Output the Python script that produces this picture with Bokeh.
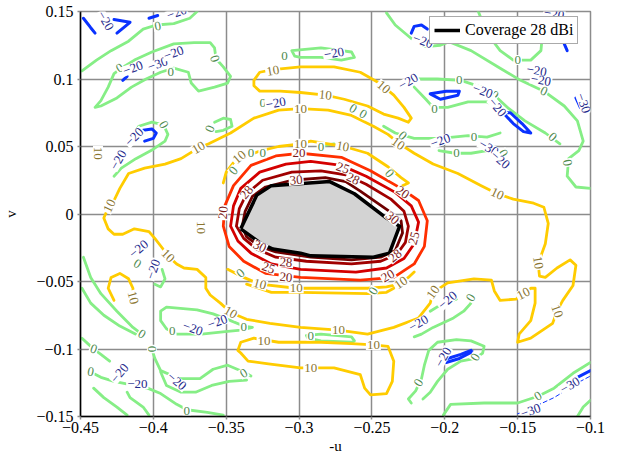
from bokeh.plotting import figure
from bokeh.models import ColumnDataSource, FixedTicker, Legend, LegendItem
from bokeh.core.properties import value
from bokeh.embed import file_html
from bokeh.resources import INLINE

# ---------------- axes ----------------
x_ticks = [-0.45, -0.4, -0.35, -0.3, -0.25, -0.2, -0.15, -0.1]
x_tick_labels = ["\u22120.45", "\u22120.4", "\u22120.35", "\u22120.3", "\u22120.25", "\u22120.2", "\u22120.15", "\u22120.1"]
y_ticks = [-0.15, -0.1, -0.05, 0, 0.05, 0.1, 0.15]
y_tick_labels = ["\u22120.15", "\u22120.1", "\u22120.05", "0", "0.05", "0.1", "0.15"]

# ---------------- coverage region (28 dBi) ----------------
cov_u = [-0.340, -0.329, -0.319, -0.279, -0.262, -0.240, -0.231, -0.238, -0.249, -0.292, -0.299, -0.318, -0.326]
cov_v = [-0.011, 0.014, 0.021, 0.024, 0.015, -0.003, -0.009, -0.029, -0.032, -0.031, -0.029, -0.026, -0.022]

# ---------------- high contours ----------------
c30_u = [-0.339, -0.337, -0.332, -0.323, -0.305, -0.282, -0.268, -0.258, -0.238, -0.230, -0.229, -0.234, -0.244, -0.264, -0.292, -0.316, -0.327, -0.336]
c30_v = [-0.009, 0.002, 0.013, 0.020, 0.025, 0.027, 0.024, 0.017, 0.002, -0.005, -0.014, -0.027, -0.032, -0.034, -0.032, -0.028, -0.024, -0.017]
c28_u = [-0.343, -0.341, -0.336, -0.325, -0.305, -0.285, -0.268, -0.254, -0.237, -0.228, -0.225, -0.227, -0.233, -0.244, -0.264, -0.295, -0.316, -0.329, -0.338]
c28_v = [-0.009, 0.004, 0.015, 0.025, 0.031, 0.032, 0.029, 0.022, 0.011, 0.002, -0.009, -0.021, -0.030, -0.035, -0.037, -0.035, -0.032, -0.026, -0.018]
c25_u = [-0.347, -0.345, -0.340, -0.327, -0.309, -0.292, -0.271, -0.254, -0.234, -0.223, -0.218, -0.221, -0.228, -0.240, -0.261, -0.299, -0.319, -0.333, -0.342]
c25_v = [-0.009, 0.006, 0.019, 0.031, 0.037, 0.039, 0.036, 0.028, 0.016, 0.006, -0.006, -0.022, -0.033, -0.040, -0.043, -0.041, -0.037, -0.029, -0.020]
c20_u = [-0.352, -0.351, -0.345, -0.333, -0.316, -0.299, -0.271, -0.251, -0.230, -0.218, -0.212, -0.214, -0.221, -0.235, -0.258, -0.299, -0.323, -0.338, -0.348]
c20_v = [-0.009, 0.006, 0.021, 0.036, 0.043, 0.045, 0.042, 0.032, 0.019, 0.010, -0.005, -0.024, -0.037, -0.047, -0.049, -0.047, -0.044, -0.035, -0.024]

# ---------------- 10 dBi contours ----------------
c10_big_u = [-0.299, -0.280, -0.264, -0.249, -0.239, -0.231, -0.221, -0.208, -0.191, -0.175, -0.164, -0.153, -0.139, -0.132,
             -0.129, -0.131, -0.134, -0.136, -0.135, -0.131, -0.123, -0.114, -0.110, -0.112, -0.119, -0.123, -0.126, -0.141,
             -0.150, -0.149, -0.141, -0.138, -0.138, -0.141, -0.146, -0.151, -0.162, -0.166, -0.168, -0.180, -0.198, -0.208,
             -0.210, -0.218, -0.235, -0.253, -0.273, -0.299, -0.320, -0.336, -0.347, -0.354, -0.361, -0.364, -0.364, -0.370,
             -0.379, -0.384, -0.390, -0.394, -0.399, -0.403, -0.413, -0.421, -0.427, -0.431, -0.434, -0.432, -0.430, -0.427,
             -0.423, -0.417, -0.406, -0.392, -0.381, -0.369, -0.362, -0.347, -0.331, -0.314]
c10_big_v = [0.078, 0.077, 0.073, 0.065, 0.059, 0.052, 0.045, 0.037, 0.030, 0.021, 0.015, 0.011, 0.008, 0.005,
             -0.007, -0.022, -0.031, -0.036, -0.046, -0.047, -0.040, -0.034, -0.038, -0.053, -0.064, -0.072, -0.081, -0.092,
             -0.095, -0.089, -0.079, -0.066, -0.055, -0.055, -0.059, -0.063, -0.064, -0.057, -0.049, -0.048, -0.051, -0.058,
             -0.066, -0.077, -0.084, -0.089, -0.086, -0.084, -0.081, -0.078, -0.073, -0.066, -0.060, -0.055, -0.047, -0.041,
             -0.040, -0.037, -0.031, -0.025, -0.018, -0.013, -0.011, -0.015, -0.015, -0.011, -0.003, 0.002, 0.006, 0.010,
             0.019, 0.030, 0.034, 0.037, 0.041, 0.049, 0.052, 0.060, 0.071, 0.077]
c10_top_u = [-0.331, -0.327, -0.318, -0.299, -0.276, -0.258, -0.245, -0.235, -0.228, -0.223, -0.225, -0.232, -0.242, -0.253, -0.269, -0.282, -0.299, -0.313, -0.327, -0.331]
c10_top_v = [0.099, 0.105, 0.107, 0.109, 0.109, 0.105, 0.097, 0.088, 0.079, 0.071, 0.068, 0.071, 0.074, 0.080, 0.085, 0.088, 0.090, 0.091, 0.091, 0.095]
c10_arc_u = [-0.352, -0.350, -0.345, -0.336, -0.326, -0.314, -0.299, -0.292, -0.269, -0.253, -0.239, -0.230, -0.225, -0.229]
c10_arc_v = [0.023, 0.031, 0.038, 0.043, 0.047, 0.050, 0.052, 0.054, 0.050, 0.045, 0.035, 0.027, 0.023, 0.021]
c10_low1_u = [-0.349, -0.340, -0.327, -0.302, -0.253, -0.240, -0.231, -0.225, -0.221]
c10_low1_v = [-0.041, -0.046, -0.052, -0.055, -0.055, -0.054, -0.052, -0.047, -0.043]
c10_low2_u = [-0.336, -0.319, -0.299, -0.253, -0.240, -0.235]
c10_low2_v = [-0.052, -0.058, -0.058, -0.059, -0.058, -0.055]
c10_isl_u = [-0.342, -0.340, -0.331, -0.314, -0.285, -0.264, -0.249, -0.239, -0.235, -0.236, -0.240, -0.251, -0.255, -0.258, -0.276, -0.299, -0.321, -0.335, -0.340]
c10_isl_v = [-0.101, -0.095, -0.092, -0.095, -0.095, -0.096, -0.097, -0.098, -0.109, -0.124, -0.133, -0.134, -0.129, -0.119, -0.114, -0.114, -0.111, -0.109, -0.103]
c10_hook_u = [-0.427, -0.431, -0.429, -0.423, -0.417, -0.414, -0.414]
c10_hook_v = [-0.064, -0.055, -0.047, -0.044, -0.048, -0.055, -0.062]

# ---------------- 0 dBi contours ----------------
g_a_u = [-0.449, -0.439, -0.429, -0.417, -0.407, -0.398, -0.386, -0.375, -0.370]
g_a_v = [0.106, 0.114, 0.121, 0.128, 0.137, 0.140, 0.141, 0.145, 0.150]
g_b_u = [-0.440, -0.436, -0.431, -0.427, -0.422, -0.413, -0.401, -0.386, -0.372, -0.361, -0.358, -0.357, -0.352, -0.347, -0.349, -0.358, -0.369, -0.374, -0.376, -0.386, -0.395, -0.405, -0.415, -0.425, -0.436]
g_b_v = [0.079, 0.084, 0.094, 0.104, 0.108, 0.114, 0.120, 0.126, 0.127, 0.127, 0.123, 0.115, 0.109, 0.102, 0.097, 0.094, 0.091, 0.097, 0.105, 0.108, 0.105, 0.100, 0.094, 0.086, 0.080]
g_c_u = [-0.413, -0.410, -0.401, -0.393, -0.390, -0.392, -0.400, -0.412, -0.422, -0.427]
g_c_v = [0.060, 0.065, 0.068, 0.066, 0.059, 0.054, 0.048, 0.041, 0.034, 0.028]
g_d_u = [-0.358, -0.352, -0.347, -0.346, -0.352, -0.357]
g_d_v = [0.068, 0.071, 0.070, 0.065, 0.062, 0.061]
g_e_u = [-0.305, -0.285, -0.264, -0.262, -0.271, -0.285, -0.299, -0.303]
g_e_v = [0.121, 0.123, 0.120, 0.116, 0.114, 0.116, 0.116, 0.117]
g_f_u = [-0.240, -0.234, -0.223, -0.213, -0.203, -0.196]
g_f_v = [0.149, 0.140, 0.130, 0.124, 0.125, 0.128]
g_g_u = [-0.177, -0.171, -0.162, -0.153, -0.141, -0.134, -0.133]
g_g_v = [0.150, 0.134, 0.121, 0.114, 0.114, 0.121, 0.133]
g_h_u = [-0.198, -0.182, -0.162, -0.148, -0.132, -0.118, -0.109, -0.105, -0.108, -0.115, -0.116, -0.110, -0.100]
g_h_v = [0.128, 0.121, 0.108, 0.099, 0.091, 0.080, 0.069, 0.054, 0.047, 0.041, 0.028, 0.020, 0.019]
g_i_u = [-0.221, -0.205, -0.189, -0.175, -0.166, -0.156, -0.145, -0.131, -0.121]
g_i_v = [0.100, 0.100, 0.099, 0.094, 0.088, 0.078, 0.069, 0.060, 0.052]
g_j_u = [-0.221, -0.213, -0.208, -0.198, -0.184, -0.171, -0.162]
g_j_v = [0.094, 0.085, 0.079, 0.079, 0.083, 0.083, 0.078]
g_k_u = [-0.242, -0.234, -0.221, -0.203, -0.184, -0.171, -0.162]
g_k_v = [0.065, 0.060, 0.056, 0.056, 0.058, 0.057, 0.060]
g_l_u = [-0.204, -0.193, -0.182, -0.171]
g_l_v = [0.047, 0.045, 0.045, 0.047]
g_m_u = [-0.448, -0.443, -0.436, -0.425, -0.414, -0.408]
g_m_v = [-0.032, -0.047, -0.059, -0.072, -0.084, -0.089]
g_n_u = [-0.449, -0.443, -0.434, -0.423, -0.412]
g_n_v = [-0.055, -0.066, -0.075, -0.083, -0.089]
g_o_u = [-0.394, -0.392, -0.395, -0.399]
g_o_v = [-0.041, -0.048, -0.054, -0.052]
g_p_u = [-0.395, -0.391, -0.370, -0.359, -0.347, -0.338, -0.332, -0.340, -0.349, -0.367, -0.384, -0.391, -0.395]
g_p_v = [-0.072, -0.069, -0.071, -0.074, -0.079, -0.083, -0.084, -0.086, -0.087, -0.089, -0.089, -0.085, -0.079]
g_q_u = [-0.449, -0.445, -0.441, -0.436, -0.430]
g_q_v = [-0.092, -0.096, -0.100, -0.104, -0.109]
g_r_u = [-0.401, -0.399, -0.395, -0.382, -0.368, -0.359, -0.349, -0.338, -0.333]
g_r_v = [-0.100, -0.107, -0.116, -0.122, -0.122, -0.115, -0.112, -0.117, -0.120]
g_s_u = [-0.395, -0.391, -0.381, -0.371, -0.360, -0.348, -0.336]
g_s_v = [-0.117, -0.127, -0.132, -0.132, -0.127, -0.124, -0.123]
g_t_u = [-0.443, -0.436, -0.427, -0.404, -0.395, -0.384, -0.377, -0.363, -0.352]
g_t_v = [-0.117, -0.121, -0.124, -0.129, -0.133, -0.141, -0.145, -0.147, -0.149]
g_w_u = [-0.441, -0.434, -0.425, -0.418]
g_w_v = [-0.129, -0.136, -0.143, -0.149]
g_x_u = [-0.418, -0.416, -0.407, -0.403]
g_x_v = [-0.132, -0.136, -0.143, -0.149]
g_band_u = [-0.295, -0.285, -0.264, -0.262, -0.264, -0.285, -0.294]
g_band_v = [-0.090, -0.089, -0.091, -0.094, -0.095, -0.094, -0.092]
g_y_u = [-0.221, -0.216, -0.208, -0.194, -0.187, -0.182, -0.182]
g_y_v = [-0.091, -0.089, -0.084, -0.077, -0.072, -0.066, -0.062]
g_y2_u = [-0.210, -0.201, -0.192]
g_y2_v = [-0.072, -0.066, -0.063]
g_z_u = [-0.223, -0.225, -0.220, -0.216, -0.214, -0.211, -0.205, -0.192, -0.182, -0.173, -0.174, -0.179, -0.189, -0.198, -0.205, -0.210, -0.215]
g_z_v = [-0.140, -0.137, -0.131, -0.122, -0.112, -0.101, -0.095, -0.093, -0.094, -0.098, -0.103, -0.107, -0.109, -0.115, -0.124, -0.132, -0.137]
g_bot_u = [-0.201, -0.196, -0.173, -0.150, -0.136, -0.125, -0.112, -0.100]
g_bot_v = [-0.149, -0.141, -0.140, -0.140, -0.135, -0.129, -0.118, -0.110]
g_cor_u = [-0.109, -0.105, -0.100]
g_cor_v = [-0.150, -0.143, -0.138]
g_dash_u = [-0.282, -0.276]
g_dash_v = [0.051, 0.052]

# ---------------- -20 / -30 dBi contours ----------------
b_1_u = [-0.210, -0.203, -0.191, -0.190, -0.199, -0.210]
b_1_v = [0.089, 0.085, 0.088, 0.091, 0.091, 0.089]
b_2_u = [-0.160, -0.153, -0.146, -0.141, -0.147, -0.155, -0.160]
b_2_v = [0.075, 0.067, 0.061, 0.060, 0.067, 0.075, 0.075]
b_3_u = [-0.407, -0.401, -0.398, -0.400, -0.406]
b_3_v = [0.062, 0.063, 0.060, 0.056, 0.054]
b_4_u = [-0.448, -0.443, -0.440]
b_4_v = [0.145, 0.138, 0.134]
b_5_u = [-0.427, -0.416, -0.425]
b_5_v = [0.144, 0.142, 0.134]
b_6_u = [-0.403, -0.397]
b_6_v = [0.145, 0.147]
b_7_u = [-0.223, -0.221, -0.216, -0.212]
b_7_v = [0.134, 0.139, 0.140, 0.137]
b_8_u = [-0.118, -0.116]
b_8_v = [0.126, 0.121]
b_9_u = [-0.110, -0.107]
b_9_v = [0.086, 0.079]
b_10_u = [-0.199, -0.190, -0.181]
b_10_v = [-0.110, -0.107, -0.102]
b_11_u = [-0.198, -0.189, -0.182]
b_11_v = [-0.107, -0.104, -0.101]
b_12_u = [-0.109, -0.100]
b_12_v = [-0.121, -0.116]
b_13_u = [-0.421, -0.418]
b_13_v = [0.099, 0.102]
m30_u = [-0.150, -0.139, -0.125, -0.107, -0.100]
m30_v = [-0.148, -0.143, -0.136, -0.124, -0.120]

# ---------------- contour labels ----------------
lab_hi_u = [-0.300, -0.352, -0.229, -0.239, -0.309, -0.270, -0.221, -0.321, -0.263, -0.336, -0.309, -0.234, -0.302, -0.236, -0.327]
lab_hi_v = [0.045, 0.001, 0.016, -0.046, -0.047, 0.034, -0.018, -0.040, 0.026, 0.016, -0.036, -0.031, 0.025, -0.003, -0.024]
lab_hi_t = ["20", "20", "20", "20", "20", "25", "25", "25", "28", "28", "28", "28", "30", "30", "30"]
lab_hi_a = [0, 85, -35, 30, -5, -20, 75, -20, -25, 50, -5, 40, 5, -40, -25]

lab10_u = [-0.232, -0.164, -0.136, -0.123, -0.146, -0.208, -0.273, -0.347, -0.390, -0.430, -0.369, -0.299,
           -0.318, -0.242, -0.282, -0.341, -0.299, -0.270, -0.327, -0.302, -0.230, -0.324, -0.292, -0.249,
           -0.414, -0.438, -0.367]
lab10_v = [0.052, 0.015, -0.036, -0.072, -0.059, -0.058, -0.086, -0.073, -0.031, 0.006, 0.049, 0.078,
           0.106, 0.094, 0.088, 0.042, 0.052, 0.050, -0.052, -0.055, -0.051, -0.094, -0.114, -0.097,
           -0.062, 0.045, -0.010]
lab10_a = [-35, -25, -80, -70, 27, 55, 0, -30, -45, 65, 30, 0,
           10, -40, -5, 40, 0, -10, -15, 0, 35, 0, 0, 0,
           -75, -90, -90]

lab0_u = [-0.397, -0.423, -0.358, -0.388, -0.393, -0.361, -0.310, -0.150, -0.132, -0.116, -0.190, -0.166, -0.126, -0.207,
          -0.180, -0.192, -0.160, -0.285, -0.238, -0.345, -0.333, -0.325, -0.340, -0.249, -0.408, -0.411, -0.387, -0.338,
          -0.441, -0.401, -0.338, -0.443, -0.377, -0.182, -0.218, -0.179, -0.136, -0.292, -0.325, -0.263, -0.256, -0.229]
lab0_v = [0.139, 0.108, 0.115, 0.105, 0.066, 0.063, 0.117, 0.114, 0.091, 0.038, 0.099, 0.088, 0.057, 0.078,
          0.057, 0.045, 0.045, 0.050, 0.030, 0.032, 0.045, 0.045, -0.044, -0.057, -0.089, -0.037, -0.087, -0.084,
          -0.100, -0.100, -0.118, -0.117, -0.146, -0.062, -0.125, -0.106, -0.135, -0.090, 0.082, 0.078, 0.074, 0.058]
lab0_a = [10, 30, -70, 0, -60, 70, 0, 0, -25, -80, 0, -40, -40, 0,
          0, 0, -60, 0, -50, 50, 0, 0, 40, 60, -30, -30, 0, 0,
          -20, -90, 30, -10, 0, 60, 60, 60, 30, 0, 0, -30, -30, -40]

labneg_u = [-0.433, -0.384, -0.414, -0.397, -0.386, -0.413, -0.424, -0.276, -0.316, -0.215, -0.225, -0.174, -0.164, -0.203,
            -0.170, -0.162, -0.137, -0.134, -0.125, -0.105, -0.410, -0.400, -0.373, -0.356, -0.384, -0.423, -0.411, -0.218,
            -0.198, -0.201, -0.141, -0.114]
labneg_v = [0.143, 0.149, 0.108, 0.111, 0.119, 0.057, 0.040, 0.119, 0.082, 0.128, 0.098, 0.091, 0.079, 0.054,
            0.049, 0.040, 0.106, 0.099, 0.148, 0.082, -0.026, -0.041, -0.085, -0.080, -0.124, -0.118, -0.126, -0.081,
            -0.064, -0.106, -0.146, -0.127]
labneg_t = ["\u221220", "\u221220", "\u221220", "\u221230", "\u221220", "\u221220", "\u221220", "\u221220",
            "\u221220", "\u221220", "\u221220", "\u221220", "\u221220", "\u221220", "\u221230", "\u221220",
            "\u221220", "\u221220", "\u221220", "\u221230", "\u221220", "\u221220", "\u221220", "\u221220",
            "\u221220", "\u221220", "\u221220", "\u221220", "\u221220", "\u221220", "\u221230", "\u221230"]
labneg_a = [-60, 20, 20, 20, 20, 45, 60, 10, 10, -20, 30, -20, -50, 20,
            -30, -40, -10, -10, -10, -70, 40, 70, -20, 20, -40, 50, 0, 30,
            40, 60, 20, 30]

# ---------------- colours ----------------
GREEN, GOLD, BLUE = "#86ee86", "#ffcc00", "#0a32ff"
RED20, RED25, RED28, RED30 = "#ff2f00", "#d40000", "#a00000", "#6e0000"
T_GREEN, T_GOLD, T_RED, T_BLUE = "#4e8a4e", "#8a7530", "#7a1a1a", "#1f2a8c"
SERIF = "'Liberation Serif', serif"


def closed(u, v):
    return list(u) + [u[0]], list(v) + [v[0]]


p = figure(width=623, height=456, x_range=(-0.45, -0.1), y_range=(-0.15, 0.15),
           output_backend="svg", toolbar_location=None, title=None,
           min_border_left=79, min_border_right=33, min_border_top=11, min_border_bottom=40,
           x_axis_label="-u", y_axis_label="v")
p.background_fill_color = "white"
p.border_fill_color = "white"
p.outline_line_color = "#8c8c8c"
p.outline_line_width = 1.5

p.xaxis.ticker = FixedTicker(ticks=x_ticks)
p.yaxis.ticker = FixedTicker(ticks=y_ticks)
p.xaxis.major_label_overrides = dict(zip(x_ticks, x_tick_labels))
p.yaxis.major_label_overrides = dict(zip(y_ticks, y_tick_labels))
for ax in (p.xaxis[0], p.yaxis[0]):
    ax.axis_line_color = "black"
    ax.axis_line_width = 1.5
    ax.major_tick_line_color = "#8c8c8c"
    ax.major_tick_line_width = 1.5
    ax.major_tick_out = 3
    ax.major_tick_in = 0
    ax.minor_tick_line_color = None
    ax.major_label_text_font = SERIF
    ax.major_label_text_font_size = "16px"
    ax.major_label_text_color = "black"
    ax.axis_label_text_font = SERIF
    ax.axis_label_text_font_size = "15px"
    ax.axis_label_text_font_style = "normal"
    ax.axis_label_text_color = "black"
p.xaxis.major_label_standoff = 2
p.xaxis.axis_label_standoff = 2
p.yaxis.major_label_standoff = 4
p.yaxis.axis_label_standoff = 14
for g in (p.xgrid[0], p.ygrid[0]):
    g.grid_line_color = "#8c8c8c"
    g.grid_line_width = 1.5


def draw(lines, color, width, dash="solid"):
    p.multi_line(xs=[l[0] for l in lines], ys=[l[1] for l in lines], line_color=color,
                 line_width=width, line_dash=dash, line_join="round", line_cap="round")


green_lines = [(g_a_u, g_a_v), closed(g_b_u, g_b_v), (g_c_u, g_c_v), (g_d_u, g_d_v), closed(g_e_u, g_e_v),
               (g_f_u, g_f_v), (g_g_u, g_g_v), (g_h_u, g_h_v), (g_i_u, g_i_v), (g_j_u, g_j_v), (g_k_u, g_k_v),
               (g_l_u, g_l_v), (g_m_u, g_m_v), (g_n_u, g_n_v), (g_o_u, g_o_v), closed(g_p_u, g_p_v),
               (g_q_u, g_q_v), (g_r_u, g_r_v), (g_s_u, g_s_v), (g_t_u, g_t_v), (g_w_u, g_w_v), (g_x_u, g_x_v),
               closed(g_band_u, g_band_v), (g_y_u, g_y_v), (g_y2_u, g_y2_v), (g_z_u, g_z_v),
               (g_bot_u, g_bot_v), (g_cor_u, g_cor_v), (g_dash_u, g_dash_v)]
draw(green_lines, GREEN, 2.8)

blue_lines = [closed(b_1_u, b_1_v), (b_2_u, b_2_v), (b_3_u, b_3_v), (b_4_u, b_4_v), (b_5_u, b_5_v),
              (b_6_u, b_6_v), (b_7_u, b_7_v), (b_8_u, b_8_v), (b_9_u, b_9_v), (b_10_u, b_10_v),
              (b_11_u, b_11_v), (b_12_u, b_12_v), (b_13_u, b_13_v)]
draw(blue_lines, BLUE, 3)
draw([(m30_u, m30_v)], BLUE, 1, "4 3")

gold_lines = [closed(c10_big_u, c10_big_v), closed(c10_top_u, c10_top_v), (c10_arc_u, c10_arc_v),
              (c10_low1_u, c10_low1_v), (c10_low2_u, c10_low2_v), closed(c10_isl_u, c10_isl_v),
              (c10_hook_u, c10_hook_v)]
draw(gold_lines, GOLD, 2.8)

draw([closed(c20_u, c20_v)], RED20, 2.8)
draw([closed(c25_u, c25_v)], RED25, 2.8)
draw([closed(c28_u, c28_v)], RED28, 2.8)
draw([closed(c30_u, c30_v)], RED30, 2.8)

cu, cv = closed(cov_u, cov_v)
p.patch(cu, cv, fill_color="#d3d3d3", line_color=None)
cov_line = p.line(cu, cv, line_color="black", line_width=3.5, line_join="round")


def labels(us, vs, texts, angles, color):
    src = ColumnDataSource(dict(x=us, y=vs, text=texts, angle=angles))
    p.text(x="x", y="y", text="text", angle="angle", angle_units="deg", source=src,
           text_color=color, text_font=value(SERIF), text_font_size="13px",
           text_align="center", text_baseline="middle",
           background_fill_color="white", padding=1)


labels(lab0_u, lab0_v, ["0"] * len(lab0_u), lab0_a, T_GREEN)
labels(labneg_u, labneg_v, labneg_t, labneg_a, T_BLUE)
labels(lab10_u, lab10_v, ["10"] * len(lab10_u), lab10_a, T_GOLD)
labels(lab_hi_u, lab_hi_v, lab_hi_t, lab_hi_a, T_RED)

legend = Legend(items=[LegendItem(label="Coverage 28 dBi", renderers=[cov_line])],
                location=(349, 372))
legend.label_text_font = SERIF
legend.label_text_font_size = "16px"
legend.label_text_color = "black"
legend.glyph_width = 26
legend.glyph_height = 18
legend.label_standoff = 5
legend.padding = 4
legend.margin = 0
legend.border_line_color = "#555555"
legend.border_line_width = 1.5
legend.background_fill_alpha = 1
p.add_layout(legend)

open("out.html", "w").write(file_html(p, INLINE))
